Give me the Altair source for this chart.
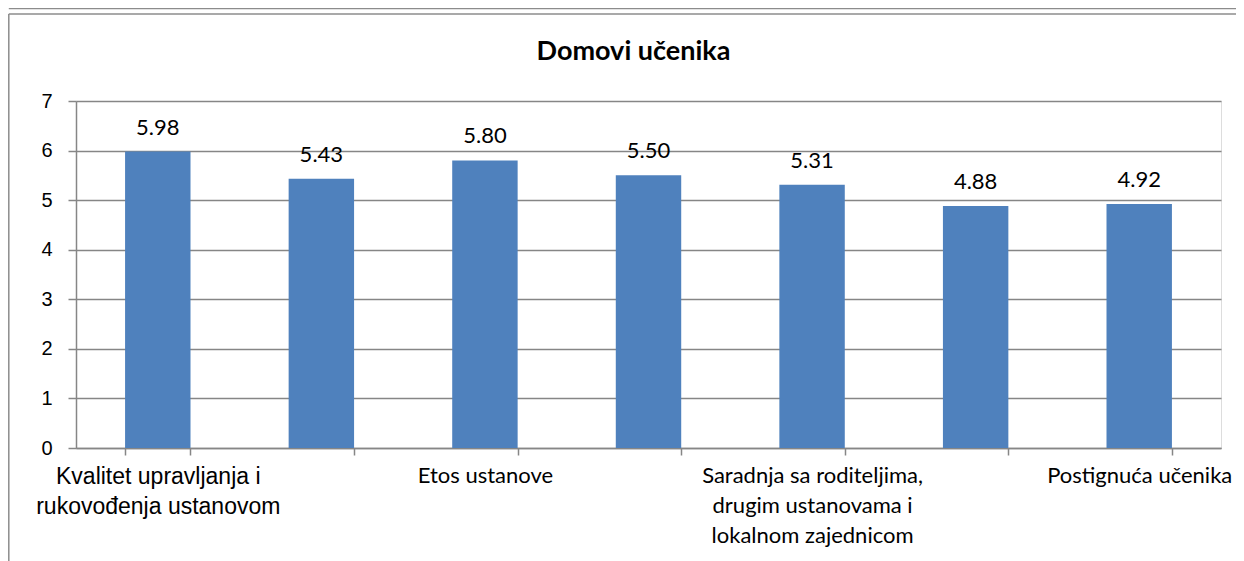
import altair as alt
import pandas as pd

categories = [
    "Kvalitet upravljanja i rukovođenja ustanovom",
    "Vaspitni rad",
    "Etos ustanove",
    "Podrška učenicima",
    "Saradnja sa roditeljima, drugim ustanovama i lokalnom zajednicom",
    "Resursi",
    "Postignuća učenika",
]
values = [5.98, 5.43, 5.80, 5.50, 5.31, 4.88, 4.92]
# axis label lines (only every other category label is shown, as in the original)
label_lines = {
    categories[0]: ["Kvalitet upravljanja i", "rukovođenja ustanovom"],
    categories[2]: ["Etos ustanove"],
    categories[4]: ["Saradnja sa roditeljima,", "drugim ustanovama i", "lokalnom zajednicom"],
    categories[6]: ["Postignuća učenika"],
}
y_ticks = [0, 1, 2, 3, 4, 5, 6, 7]
title_text = "Domovi učenika"

df = pd.DataFrame({"cat": categories, "val": values})
df["lbl"] = [f"{v:.2f}" for v in values]

expr = "''"
for k, lines in reversed(list(label_lines.items())):
    arr = "[" + ",".join("'" + s + "'" for s in lines) + "]"
    expr = f"datum.value == '{k}' ? {arr} : ({expr})"

GRID = "#868686"
W, H = 1145, 347

x_enc = alt.X(
    "cat:N",
    sort=categories,
    scale=alt.Scale(paddingInner=0.6, paddingOuter=0.3),
    axis=alt.Axis(
        title=None,
        labelAngle=0,
        labelExpr=expr,
        labelFont={"condition": {"test": f"datum.value == '{categories[0]}'", "value": "Liberation Sans"}, "value": "Lato"},
        labelFontSize={"condition": {"test": f"datum.value == '{categories[0]}'", "value": 23}, "value": 22},
        labelColor="#000000",
        labelLineHeight=30,
        labelPadding=10,
        labelLimit=400,
        labelOverlap=False,
        labelBaseline="top",
        tickBand="extent",
        tickColor=GRID,
        tickSize=7,
        tickWidth=1.5,
        domainColor=GRID,
        domainWidth=1.5,
        grid=False,
    ),
)

y_enc = alt.Y(
    "val:Q",
    scale=alt.Scale(domain=[0, 7], nice=False),
    axis=alt.Axis(
        title=None,
        values=y_ticks,
        labelFont="Liberation Sans",
        labelFontSize=20,
        labelColor="#000000",
        labelPadding=16,
        tickColor=GRID,
        tickSize=8,
        tickWidth=1.5,
        domainColor=GRID,
        domainWidth=1.5,
        gridColor=GRID,
        gridWidth=1.5,
    ),
)

base = alt.Chart(df)
bars = base.mark_bar(color="#4F81BD").encode(x=x_enc, y=y_enc)
texts = base.mark_text(
    baseline="bottom", dy=-12, font="Lato", fontSize=22, color="#000000"
).encode(x=alt.X("cat:N", sort=categories), y="val:Q", text="lbl:N")

one = alt.Chart(pd.DataFrame({"a": [0], "t": [title_text]}))
frame_color = "#8c8c8c"
frame = alt.layer(
    one.mark_rule(color=frame_color, strokeWidth=1.5).encode(
        x=alt.value(-67.2), y=alt.value(-87), y2=alt.value(470)),
    one.mark_rule(color=frame_color, strokeWidth=1.5).encode(
        x=alt.value(-67.2), x2=alt.value(1170), y=alt.value(-87)),
    one.mark_rule(color=frame_color, strokeWidth=1.5).encode(
        x=alt.value(-67.2), x2=alt.value(1170), y=alt.value(-92.5)),
)
title = one.mark_text(
    font="Lato", fontSize=27, fontWeight="bold", color="#000000",
    align="center", baseline="middle",
).encode(x=alt.value(W / 2 - 15), y=alt.value(-49), text="t:N")

chart = alt.layer(frame, title, bars, texts).properties(
    width=W,
    height=H,
    autosize=alt.AutoSizeParams(type="none"),
    padding={"left": 68, "top": 93, "right": 15, "bottom": 113},
).configure_view(stroke=None).configure(background="white")

chart.save("out.html", embed_options={"renderer": "svg", "actions": False})
